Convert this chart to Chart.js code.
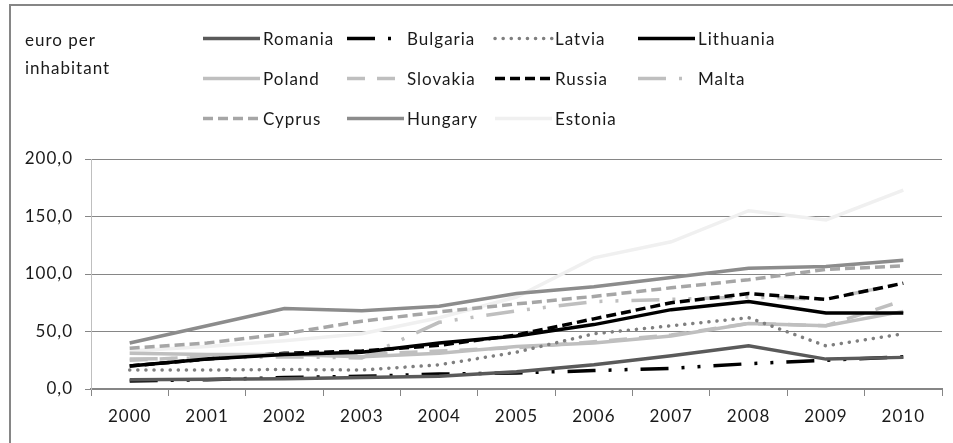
<!DOCTYPE html>
<html>
<head>
<meta charset="utf-8">
<script src="https://cdn.jsdelivr.net/npm/chart.js@4/dist/chart.umd.min.js"></script>
<style>
html,body{margin:0;padding:0;background:#fff;}
#wrap{width:953px;height:443px;position:relative;}
</style>
</head>
<body>
<div id="wrap"><canvas id="c" width="953" height="443"></canvas></div>
<script>
const years = ['2000','2001','2002','2003','2004','2005','2006','2007','2008','2009','2010'];
const romania   = [8, 8.5, 9, 10, 11, 15, 21, 29, 37.5, 26, 27.5];
const bulgaria  = [7, 8, 10, 11, 13, 14, 16, 18, 22, 25, 28];
const latvia    = [16.5, 16.5, 17, 16.5, 21, 32, 48, 55, 62, 37.5, 48];
const lithuania = [20, 26, 30, 32, 40, 46, 56, 69, 76, 66, 66];
const poland    = [31, 30, 30, 28, 31, 37, 40, 46, 57, 55, 67.5];
const slovakia  = [25, 28, 30, 30, 33, 36, 41, 47, 57, 55, 77];
const russia    = [20, 26, 31, 33, 38, 47, 61, 75, 83, 78, 92];
const malta     = [26, 27, 28, 27, 58, 68, 76, 78, 80, 78, 92];
const cyprus    = [35.5, 40, 48, 59, 67, 74, 80.5, 88, 95, 104, 107];
const hungary   = [40, 55, 70, 68, 72, 83, 89, 97, 105, 106.5, 112];
const estonia   = [33, 37, 42, 48, 62, 80, 114, 128, 155, 147, 173];

const FONT = 'Lato, "Open Sans", sans-serif';

function ds(label, data, color, dash, cap, width) {
  return {label, data, borderColor: color, backgroundColor: color, borderDash: dash || [],
          borderCapStyle: cap || 'butt', borderWidth: width || 3.5, pointRadius: 0, tension: 0, fill: false};
}

const datasets = [
  ds('Romania', romania, '#5a5a5a'),
  ds('Bulgaria', bulgaria, '#000000', [28, 13, 3, 13, 3, 13]),
  ds('Latvia', latvia, '#7f7f7f', [0.1, 8], 'round'),
  ds('Lithuania', lithuania, '#000000'),
  ds('Poland', poland, '#bfbfbf'),
  ds('Slovakia', slovakia, '#bfbfbf', [18, 12]),
  ds('Russia', russia, '#000000', [10, 5]),
  ds('Malta', malta, '#bfbfbf', [28, 13, 3, 13, 3, 13]),
  ds('Cyprus', cyprus, '#a6a6a6', [10, 5]),
  ds('Hungary', hungary, '#8c8c8c'),
  ds('Estonia', estonia, '#f0f0f0')
];

const frameAndLegend = {
  id: 'frameAndLegend',
  beforeInit(chart) { chart.ctx.letterSpacing = '1px'; },
  beforeLayout(chart) { chart.ctx.letterSpacing = '1px'; },
  beforeDraw(chart) {
    const ctx = chart.ctx;
    ctx.letterSpacing = '1px';
    ctx.save();
    ctx.fillStyle = '#ffffff';
    ctx.fillRect(0, 0, chart.width, chart.height);
    ctx.strokeStyle = '#868686';
    ctx.lineWidth = 2;
    ctx.beginPath();
    ctx.moveTo(10, 443);
    ctx.lineTo(10, 5);
    ctx.lineTo(953, 5);
    ctx.stroke();
    ctx.restore();
  },
  afterDraw(chart) {
    const ctx = chart.ctx;
    ctx.save();
    ctx.letterSpacing = '1px';
    ctx.font = '17px ' + FONT;
    ctx.fillStyle = '#1a1a1a';
    ctx.textBaseline = 'alphabetic';
    ctx.textAlign = 'left';
    ctx.fillText('euro per', 25, 46);
    ctx.fillText('inhabitant', 25, 74);
    const colX = [203, 347, 495, 638];
    const rowBase = [45, 85, 125];
    chart.data.datasets.forEach((d, i) => {
      const cx = colX[i % 4];
      const by = rowBase[Math.floor(i / 4)];
      const ly = by - 6.5;
      ctx.save();
      ctx.strokeStyle = d.borderColor;
      ctx.lineWidth = d.borderWidth;
      ctx.lineCap = d.borderCapStyle;
      ctx.setLineDash(d.borderDash);
      ctx.beginPath();
      ctx.moveTo(cx, ly);
      ctx.lineTo(cx + 57, ly);
      ctx.stroke();
      ctx.restore();
      ctx.fillText(d.label, cx + 60, by);
    });
    ctx.restore();
  }
};

new Chart(document.getElementById('c'), {
  type: 'line',
  data: { labels: years, datasets },
  plugins: [frameAndLegend],
  options: {
    responsive: false,
    animation: false,
    devicePixelRatio: 1,
    layout: { padding: { top: 159, right: 11, left: 0, bottom: 0 } },
    plugins: { legend: { display: false }, tooltip: { enabled: false }, title: { display: false } },
    scales: {
      x: {
        type: 'category',
        offset: true,
        grid: { offset: true, drawOnChartArea: false, drawTicks: true, tickLength: 7, color: '#868686', lineWidth: 1 },
        border: { display: true, color: '#868686', width: 2 },
        ticks: { color: '#1a1a1a', font: { family: FONT, size: 17 }, padding: 10, maxRotation: 0, autoSkip: false },
        afterFit(scale) { scale.height = 54; }
      },
      y: {
        min: 0, max: 200,
        ticks: { stepSize: 50, color: '#1a1a1a', font: { family: FONT, size: 17 }, padding: 12,
                 callback: v => v.toFixed(1).replace('.', ',') },
        grid: { color: '#868686', lineWidth: 1, tickLength: 6, drawTicks: true },
        border: { display: true, color: '#bfbfbf', width: 1 },
        afterFit(scale) { scale.width = 91; }
      }
    }
  }
});
</script>
</body>
</html>
